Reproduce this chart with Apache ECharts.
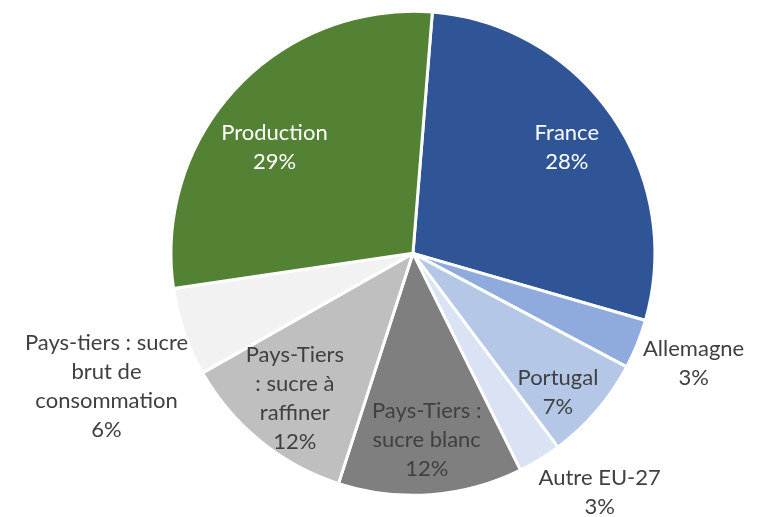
<!DOCTYPE html>
<html>
<head>
    <meta charset="utf-8" />
    <title>Pie</title>
    <script src="https://cdn.jsdelivr.net/npm/echarts@6/dist/echarts.min.js"></script>
    <style>
        html, body { margin: 0; padding: 0; background: #fff; }
    </style>
</head>
<body>
<div id="main" style="width: 769px;height:517px;"></div>
<script type="text/javascript">
    // slices, clockwise from the top
    var names = ['France', 'Allemagne', 'Portugal', 'Autre EU-27', 'Pays-Tiers :\nsucre blanc',
        'Pays-Tiers\n: sucre à\nraffiner', 'Pays-tiers : sucre\nbrut de\nconsommation', 'Production'];
    var values = [28.2, 3.3, 7.0, 2.9, 12.3, 11.8, 5.9, 28.6];
    var colors = ['#2F5597', '#8FAADC', '#B4C7E7', '#DAE3F3', '#7F7F7F', '#BFBFBF', '#F2F2F2', '#548235'];
    // where each label sits: inside the slice or outside it
    var labelPlace = ['in', 'out', 'in', 'out', 'in', 'in', 'out', 'in'];
    var labelColor = ['#ffffff', '#404040', '#404040', '#404040', '#404040', '#404040', '#404040', '#ffffff'];

    var center = ['53.7%', '49%'];
    var R = 242;
    var fontFamily = 'Lato, "Liberation Sans", sans-serif';
    // small hand nudges, like Excel's best fit
    var nudge = {1: [-2, -4], 2: [3, 17], 3: [27, -21], 6: [-18, 34], 7: [-2, 22]};

    function pct(p) {
        return p.name + '\n' + Math.round(p.percent) + '%';
    }

    var mainData = [], inData = [], outData = [];
    for (var i = 0; i < names.length; i++) {
        mainData.push({name: names[i], value: values[i], itemStyle: {color: colors[i]}});
        var lbl = {show: true, color: labelColor[i], offset: nudge[i] || [0, 0]};
        inData.push({name: names[i], value: values[i],
            label: labelPlace[i] == 'in' ? lbl : {show: false}});
        outData.push({name: names[i], value: values[i],
            label: labelPlace[i] == 'out' ? lbl : {show: false}});
    }

    var labelStyle = {
        position: 'inside',
        formatter: pct,
        fontSize: 22,
        lineHeight: 29,
        fontFamily: fontFamily,
        align: 'center'
    };

    function ring(name, radius, data) {
        // transparent ring only used to place labels
        return {
            name: name,
            type: 'pie',
            center: center,
            radius: radius,
            startAngle: 85.4,
            clockwise: true,
            silent: true,
            itemStyle: {color: 'rgba(0,0,0,0)'},
            label: labelStyle,
            labelLine: {show: false},
            emphasis: {disabled: true},
            data: data
        };
    }

    var option = {
        backgroundColor: '#FFFFFF',
        animation: false,
        series: [{
            name: 'pie',
            type: 'pie',
            center: center,
            radius: [0, R],
            startAngle: 85.4,
            clockwise: true,
            itemStyle: {borderColor: '#ffffff', borderWidth: 3},
            label: {show: false},
            labelLine: {show: false},
            emphasis: {disabled: true},
            data: mainData
        },
            ring('labelsIn', [126, R], inData),
            ring('labelsOut', [R, 362], outData)
        ]
    };
    var myChart = echarts.init(document.getElementById('main'));
    myChart.setOption(option);
</script>
</body>
</html>
